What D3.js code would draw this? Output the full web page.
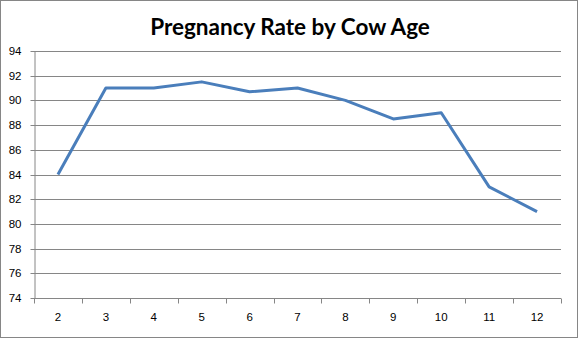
<!DOCTYPE html>
<html>
<head>
<meta charset="utf-8">
<script src="https://cdn.jsdelivr.net/npm/d3@7"></script>
<style>
  html, body { margin: 0; padding: 0; background: #fff; }
  svg { display: block; }
</style>
</head>
<body>
<svg id="chart" width="578" height="338"></svg>
<script>
// Cow age categories and pregnancy rate (%) for each age
const ages = ["2", "3", "4", "5", "6", "7", "8", "9", "10", "11", "12"];
const rates = [84, 91, 91, 91.5, 90.7, 91, 90, 88.5, 89, 83, 81];
const yTicks = [74, 76, 78, 80, 82, 84, 86, 88, 90, 92, 94];
const title = "Pregnancy Rate by Cow Age";

const W = 578, H = 338;
const plot = { left: 34, right: 561, top: 51, bottom: 298 };
const gridColor = "#868686";
const lineColor = "#4a7ebb";
const font = "'Liberation Sans', Arial, sans-serif";

const svg = d3.select("#chart");

// outer chart frame
svg.append("rect")
  .attr("x", 0.5).attr("y", 0.5)
  .attr("width", W - 1).attr("height", H - 1)
  .attr("fill", "#fff").attr("stroke", gridColor).attr("stroke-width", 1);

const x = d3.scaleBand().domain(ages).range([plot.left, plot.right]).padding(0);
const y = d3.scaleLinear().domain([74, 94]).range([plot.bottom, plot.top]);

// horizontal gridlines
svg.append("g")
  .selectAll("line")
  .data(yTicks.filter(t => t !== 74))
  .join("line")
  .attr("x1", plot.left).attr("x2", plot.right)
  .attr("y1", d => Math.round(y(d)) + 0.5).attr("y2", d => Math.round(y(d)) + 0.5)
  .attr("stroke", gridColor).attr("stroke-width", 1);

// y axis
const yAxis = svg.append("g")
  .attr("transform", `translate(${plot.left + 0.5},0)`)
  .call(d3.axisLeft(y).tickValues(yTicks).tickSize(4).tickPadding(9).tickSizeOuter(0)
    .tickFormat(d3.format("d")));
yAxis.selectAll(".tick").attr("transform", d => `translate(0,${Math.round(y(d)) + 0.5})`);
yAxis.selectAll("line").attr("stroke", gridColor);
yAxis.select(".domain").attr("stroke", gridColor);
yAxis.selectAll("text").attr("font-family", font).attr("font-size", 11.5).attr("fill", "#000");

// x axis with tick marks at category boundaries
const xAxisG = svg.append("g")
  .attr("transform", `translate(0,${Math.round(plot.bottom) + 0.5})`);
xAxisG.append("line")
  .attr("x1", plot.left).attr("x2", plot.right)
  .attr("stroke", gridColor);
const bounds = ages.map(a => x(a)).concat([x(ages[ages.length - 1]) + x.bandwidth()]);
xAxisG.selectAll("line.tk")
  .data(bounds)
  .join("line").attr("class", "tk")
  .attr("x1", d => Math.round(d) + 0.5).attr("x2", d => Math.round(d) + 0.5)
  .attr("y1", 0).attr("y2", 5)
  .attr("stroke", gridColor);
xAxisG.selectAll("text")
  .data(ages)
  .join("text")
  .attr("x", d => x(d) + x.bandwidth() / 2)
  .attr("y", 22)
  .attr("text-anchor", "middle")
  .attr("font-family", font).attr("font-size", 11.5).attr("fill", "#000")
  .text(d => d);

// data line
const line = d3.line()
  .x((d, i) => x(ages[i]) + x.bandwidth() / 2)
  .y(d => y(d));
svg.append("path")
  .datum(rates)
  .attr("d", line)
  .attr("fill", "none")
  .attr("stroke", lineColor)
  .attr("stroke-width", 3)
  .attr("stroke-linejoin", "round");

// title
svg.append("text")
  .attr("x", 290).attr("y", 35)
  .attr("text-anchor", "middle")
  .attr("font-family", "Lato, 'Open Sans', sans-serif")
  .attr("font-weight", "bold")
  .attr("font-size", 22.5)
  .attr("fill", "#000")
  .text(title);
</script>
</body>
</html>
